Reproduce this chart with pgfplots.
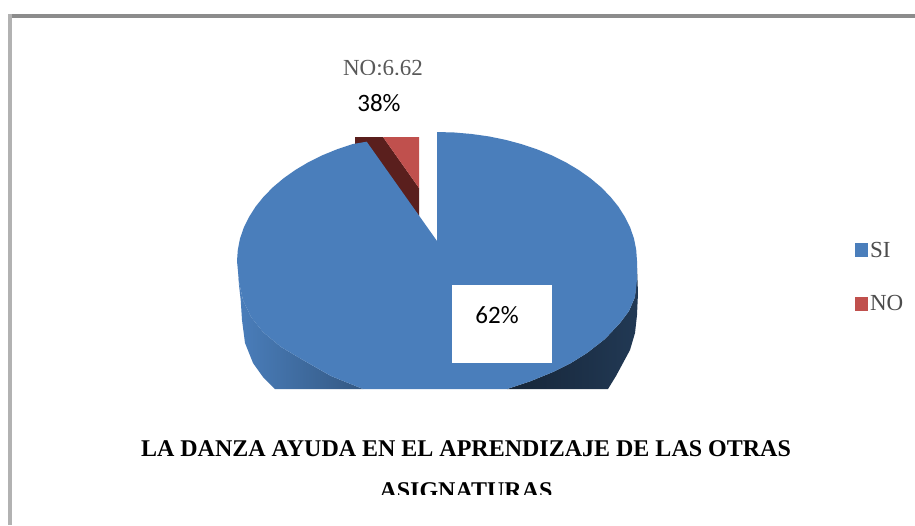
\documentclass[border=0pt]{standalone}
\usepackage{fontspec}
\setmainfont{Liberation Serif}
\newfontfamily\carlito{Carlito}
\usepackage{pgfplots}
\pgfplotsset{compat=1.18}
\definecolor{pieblue}{HTML}{4A7EBB}
\definecolor{piered}{HTML}{C0504D}
\definecolor{piedark}{HTML}{5A1F1D}
\begin{document}
\begin{tikzpicture}
\begin{axis}[
  width=915pt,height=525pt,scale only axis,
  xmin=0,xmax=915,ymin=0,ymax=525,y dir=reverse,
  hide axis,clip=false,
  legend style={at={(axis cs:855,240)},anchor=north west,draw=none,fill=none,
    font=\fontsize{23}{23}\selectfont\color{black!70},
    row sep=33pt,inner sep=0pt,outer sep=0pt,
    /tikz/every even column/.style={column sep=4pt}},
  legend cell align=left,
  legend image code/.code={\fill[#1] (0pt,-7pt) rectangle (13pt,7pt);},
]
% background
\addplot[fill=white,draw=none,forget plot] coordinates {(0,0)(915,0)(915,525)(0,525)} --cycle;
% frame
\addplot[fill=black!45,draw=none,forget plot] coordinates {(8,14)(915,14)(915,17.5)(8,17.5)} --cycle;
\addplot[fill=black!30,draw=none,forget plot] coordinates {(8,14)(12,14)(12,525)(8,525)} --cycle;
% side walls
\addplot[left color=pieblue,right color=pieblue!70!black,draw=none,forget plot] coordinates {(238,268)(239,285)(240.7,300)(242,320)(245,343)(253,363)(263,377)(275,389)(363,389)(331,376)(303,360)(281,347)(263,332)(251,317)(243,300)(239,282)} --cycle;
\addplot[left color=black!70!pieblue,right color=black!55!pieblue,draw=none,forget plot] coordinates {(637,268)(638,293)(637,315)(635,333)(630,350)(623,363)(616,376)(608,389)(507,389)(531,381)(553,372)(571,363)(587,353)(605,339)(620,323)(629,311)(635,297)} --cycle;
% NO slice, back wall
\addplot[fill=piedark,draw=none,forget plot] coordinates {(355,137)(383,137)(419,188)(419,216)(365,143)(355,145)} --cycle;
% SI slice
\addplot[fill=pieblue,draw=none] coordinates {(437,241)(437,132)(454.4,132.5)(471.7,134)(488.8,136.4)(505.4,139.8)(521.5,144.1)(537,149.3)(551.7,155.3)(565.6,162.2)(578.4,169.8)(590.2,178.1)(600.8,187)(610.2,196.5)(618.3,206.5)(624.9,216.9)(630.2,227.6)(634,238.6)(636.2,249.8)(637,261)(637,280)(635,297)(629,311)(620,323)(605,339)(587,353)(571,363)(553,372)(531,381)(507,389)(363,389)(331,376)(303,360)(281,347)(263,332)(251,317)(243,300)(239,282)(237,261)(237.8,249.8)(240,238.6)(243.8,227.6)(249.1,216.9)(255.7,206.5)(263.8,196.5)(273.2,187)(283.8,178.1)(295.6,169.8)(308.4,162.2)(322.3,155.3)(337,149.3)(352.5,144.1)(366.7,141.7)} --cycle;
\addlegendentry{SI}
% NO slice
\addplot[fill=piered,draw=none] coordinates {(383,137)(419,137)(419,188)} --cycle;
\addlegendentry{NO}
% data label with overlays
\node[text=black!65,font=\fontsize{23}{23}\selectfont,anchor=base] at (axis cs:383,75) {NO:6.62};
\addplot[fill=white,draw=none,forget plot] coordinates {(330,75)(435,75)(435,132)(330,132)} --cycle;
\node[font=\carlito\fontsize{25}{25}\selectfont,anchor=center] at (axis cs:379,103) {38\%};
\addplot[fill=white,draw=none,forget plot] coordinates {(452,285)(552,285)(552,363)(452,363)} --cycle;
\node[font=\carlito\fontsize{25}{25}\selectfont,anchor=center] at (axis cs:497,315) {62\%};
% title
\node[font=\bfseries\fontsize{24}{24}\selectfont,anchor=base] at (axis cs:466,456) {LA DANZA AYUDA EN EL APRENDIZAJE DE LAS OTRAS};
\node[font=\bfseries\fontsize{24}{24}\selectfont,anchor=base] at (axis cs:466,498) {ASIGNATURAS};
\addplot[fill=white,draw=none,forget plot] coordinates {(300,495)(640,495)(640,510)(300,510)} --cycle;
\end{axis}
\end{tikzpicture}
\end{document}
